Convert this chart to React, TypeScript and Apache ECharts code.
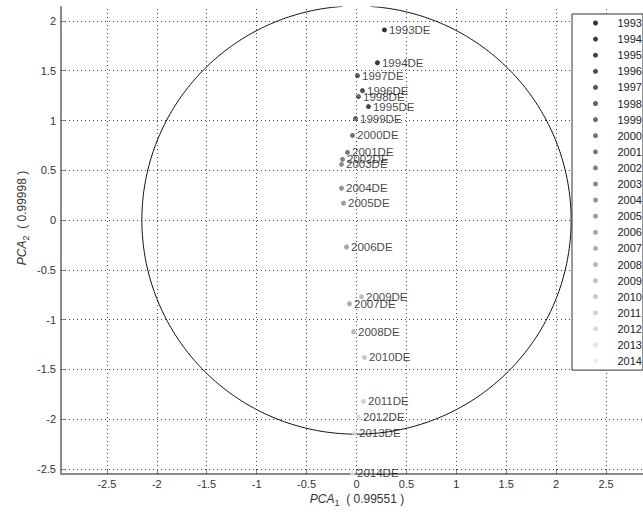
import React, { useEffect, useRef } from "react";
import * as echarts from "echarts";

const years = ["1993","1994","1995","1996","1997","1998","1999","2000","2001","2002","2003","2004","2005","2006","2007","2008","2009","2010","2011","2012","2013","2014"];
const pca1 = [0.28, 0.21, 0.12, 0.06, 0.01, 0.02, -0.01, -0.04, -0.09, -0.14, -0.15, -0.15, -0.13, -0.10, -0.07, -0.03, 0.05, 0.08, 0.07, 0.02, -0.02, -0.04];
const pca2 = [1.91, 1.58, 1.14, 1.30, 1.45, 1.24, 1.02, 0.85, 0.68, 0.61, 0.56, 0.32, 0.17, -0.27, -0.84, -1.12, -0.77, -1.38, -1.82, -1.98, -2.14, -2.54];
const grays = ["#000000","#0b0b0b","#161616","#212121","#2c2c2c","#373737","#424242","#4d4d4d","#585858","#636363","#6e6e6e","#797979","#848484","#8f8f8f","#9a9a9a","#a5a5a5","#b0b0b0","#bbbbbb","#c6c6c6","#d1d1d1","#dcdcdc","#e7e7e7"];
const xTicks = [-2.5, -2, -1.5, -1, -0.5, 0, 0.5, 1, 1.5, 2, 2.5];
const yTicks = [-2.5, -2, -1.5, -1, -0.5, 0, 0.5, 1, 1.5, 2];
const circleRadius = 2.15;
const Y_MAX = 2.14;
const xLabel = "0.99551";
const yLabel = "0.99998";

const FONT = "'Liberation Sans', Arial, sans-serif";

export default function App() {
  const ref = useRef<HTMLDivElement>(null);
  useEffect(() => {
    if (!ref.current) return;
    const chart = echarts.init(ref.current, undefined, { renderer: "svg" });
    // circle arc, leaving out the part clipped above the top of the axes
    const gapHalf = 0.14;
    const a0 = Math.acos(gapHalf / circleRadius);
    const startA = Math.PI - a0;
    const endA = 2 * Math.PI + a0;
    const steps = 360;
    const circlePoints: number[][] = [];
    for (let k = 0; k <= steps; k++) {
      const t = startA + ((endA - startA) * k) / steps;
      circlePoints.push([circleRadius * Math.cos(t), circleRadius * Math.sin(t)]);
    }
    const gridStyle = { type: [1, 3] as any, color: "#444", width: 1 };
    const markData: any[] = [
      ...xTicks.map((v) => ({ xAxis: v })),
      ...yTicks.map((v) => ({ yAxis: v })),
    ];
    const scatterSeries = years.map((y, i) => ({
      name: y,
      type: "scatter",
      symbol: "circle",
      symbolSize: 5,
      z: 5,
      itemStyle: { color: grays[i] },
      data: [[pca1[i], pca2[i]]],
      label: {
        show: true,
        position: "right",
        distance: 2,
        formatter: y + "DE",
        color: "#111",
        fontSize: 11.5,
        fontFamily: FONT,
      },
    }));
    const axisCommon = {
      type: "value",
      axisLine: { show: true, onZero: false, lineStyle: { color: "#8a8a8a", width: 2 } },
      splitLine: { show: false },
      axisLabel: { color: "#333", fontSize: 11, fontFamily: FONT },
      axisTick: { show: true, inside: true, length: 4, lineStyle: { color: "#8a8a8a", width: 1 } },
    };
    chart.setOption({
      animation: false,
      backgroundColor: "#fff",
      grid: { left: 61, top: 7, right: 0, bottom: 38, containLabel: false },
      xAxis: {
        ...axisCommon,
        min: -2.96,
        max: 2.87,
        axisLabel: { ...axisCommon.axisLabel, margin: 4, customValues: xTicks },
        axisTick: { ...axisCommon.axisTick, customValues: xTicks },
      },
      yAxis: {
        ...axisCommon,
        min: -2.55,
        max: Y_MAX,
        axisLabel: { ...axisCommon.axisLabel, margin: 5, customValues: yTicks },
        axisTick: { ...axisCommon.axisTick, customValues: yTicks },
      },
      legend: {
        orient: "vertical",
        left: 572,
        top: 14,
        data: years,
        icon: "circle",
        itemWidth: 34,
        itemHeight: 5,
        itemGap: 4.1,
        padding: [3, 1, 3, 21],
        backgroundColor: "#fff",
        borderColor: "#333",
        borderWidth: 1,
        borderRadius: 0,
        textStyle: { color: "#222", fontSize: 11, fontFamily: FONT, lineHeight: 12, height: 12 },
        z: 10,
      },
      graphic: [
        {
          type: "text",
          x: 357,
          y: 499,
          style: {
            text: "{i|PCA}{s|1}{n|  ( " + xLabel + " )}",
            align: "center",
            verticalAlign: "middle",
            rich: {
              i: { fontStyle: "italic", fontSize: 12, fontFamily: FONT, fill: "#333" },
              s: { fontSize: 9, fontFamily: FONT, fill: "#333", padding: [8, 0, 0, 0] },
              n: { fontSize: 12, fontFamily: FONT, fill: "#333" },
            },
          },
        },
        {
          type: "text",
          x: 22,
          y: 218,
          rotation: Math.PI / 2,
          style: {
            text: "{i|PCA}{s|2}{n|  ( " + yLabel + " )}",
            align: "center",
            verticalAlign: "middle",
            rich: {
              i: { fontStyle: "italic", fontSize: 12, fontFamily: FONT, fill: "#333" },
              s: { fontSize: 9, fontFamily: FONT, fill: "#333", padding: [8, 0, 0, 0] },
              n: { fontSize: 12, fontFamily: FONT, fill: "#333" },
            },
          },
        },
      ],
      series: [
        {
          type: "line",
          data: circlePoints,
          showSymbol: false,
          symbol: "none",
          silent: true,
          clip: true,
          connectNulls: false,
          z: 2,
          lineStyle: { color: "#111", width: 1 },
        },
        {
          type: "line",
          data: [],
          silent: true,
          markLine: {
            silent: true,
            symbol: ["none", "none"],
            label: { show: false },
            lineStyle: gridStyle,
            data: markData,
            z: 1,
          },
        },
        ...scatterSeries,
      ],
    });
    return () => chart.dispose();
  }, []);
  return (
    <div
      ref={ref}
      style={{ position: "fixed", left: 0, top: 0, width: 643, height: 512 }}
    />
  );
}
